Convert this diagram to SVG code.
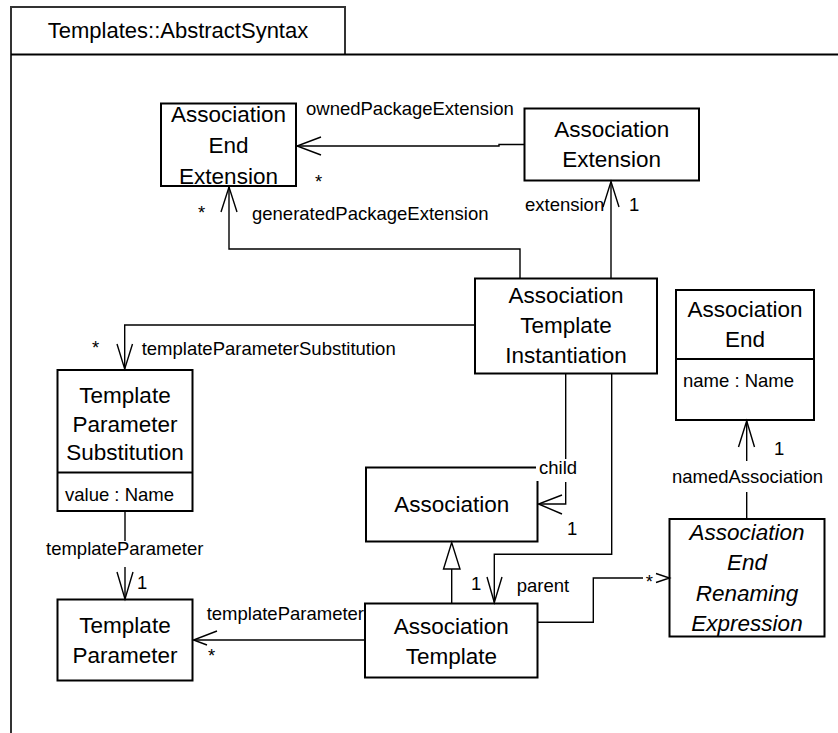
<svg xmlns="http://www.w3.org/2000/svg" width="838" height="733" viewBox="0 0 838 733">
<defs>
<style>
.box{fill:#fff;stroke:#000;stroke-width:2}
.cn{fill:#000;font-family:"Liberation Sans",Arial,sans-serif;font-size:22.5px;text-anchor:middle}
.it{font-style:italic}
.lb{fill:#000;font-family:"Liberation Sans",Arial,sans-serif;font-size:18.5px}
.mid{text-anchor:middle}
.ln{fill:none;stroke:#000;stroke-width:1.4}
</style>
</defs>
<rect width="838" height="733" fill="#fff"/>
<g id="frame">
<path d="M11,733 V7 H345 V54.5" fill="none" stroke="#333" stroke-width="2"/>
<line x1="11" y1="54.5" x2="838" y2="54.5" stroke="#000" stroke-width="2"/>
<text x="178" y="38" style="font-family:'Liberation Sans',Arial,sans-serif;font-size:22px;text-anchor:middle">Templates::AbstractSyntax</text>
</g>
<g id="AssociationEndExtension">
<rect class="box" x="161" y="103.5" width="135" height="82.5"/>
<text class="cn" x="228.5" y="122">Association</text>
<text class="cn" x="228.5" y="153">End</text>
<text class="cn" x="228.5" y="184">Extension</text>
</g>
<g id="AssociationExtension">
<rect class="box" x="524.5" y="108.5" width="174.5" height="72"/>
<text class="cn" x="611.7" y="137">Association</text>
<text class="cn" x="611.7" y="167">Extension</text>
</g>
<g id="AssociationTemplateInstantiation">
<rect class="box" x="475" y="278.5" width="182" height="95"/>
<text class="cn" x="566" y="303">Association</text>
<text class="cn" x="566" y="333">Template</text>
<text class="cn" x="566" y="363">Instantiation</text>
</g>
<g id="AssociationEnd">
<rect class="box" x="676" y="290" width="138" height="130"/>
<line x1="676" y1="359" x2="814" y2="359" stroke="#000" stroke-width="2"/>
<text class="cn" x="745" y="317">Association</text>
<text class="cn" x="745" y="347">End</text>
<text class="lb" x="683" y="387">name : Name</text>
</g>
<g id="TemplateParameterSubstitution">
<rect class="box" x="57.5" y="370" width="135" height="141"/>
<line x1="57.5" y1="472.5" x2="192.5" y2="472.5" stroke="#000" stroke-width="2"/>
<text class="cn" x="125" y="403">Template</text>
<text class="cn" x="125" y="432">Parameter</text>
<text class="cn" x="125" y="460">Substitution</text>
<text class="lb" x="65" y="501">value : Name</text>
</g>
<g id="TemplateParameter">
<rect class="box" x="57.5" y="599.5" width="135" height="81"/>
<text class="cn" x="125" y="633">Template</text>
<text class="cn" x="125" y="663">Parameter</text>
</g>
<g id="Association">
<rect class="box" x="366" y="467.5" width="171.5" height="74"/>
<text class="cn" x="451.8" y="512">Association</text>
</g>
<g id="AssociationTemplate">
<rect class="box" x="365" y="603.5" width="172.5" height="74"/>
<text class="cn" x="451.3" y="633.5">Association</text>
<text class="cn" x="451.3" y="664">Template</text>
</g>
<g id="AssociationEndRenamingExpression">
<rect class="box" x="669.5" y="519" width="155" height="117.5"/>
<text class="cn it" x="747" y="539.5">Association</text>
<text class="cn it" x="747" y="570">End</text>
<text class="cn it" x="747" y="600.5">Renaming</text>
<text class="cn it" x="747" y="631">Expression</text>
</g>
<g id="connectors">
<path class="ln" d="M524,144.5 H499 V146 H297"/>
<polyline class="ln" points="321,137 297,146 321,155"/>
<text class="lb" x="306" y="115">ownedPackageExtension</text>
<text class="lb" x="315" y="188">*</text>

<path class="ln" d="M520,278.5 V249 H229 V187"/>
<polyline class="ln" points="221,212 229,187 237,212"/>
<text class="lb" x="198" y="218.5">*</text>
<text class="lb" x="252" y="220">generatedPackageExtension</text>

<path class="ln" d="M611,278.5 V181.5"/>
<polyline class="ln" points="603,207 611,181.5 619,207"/>
<text class="lb" x="525" y="211">extension</text>
<text class="lb" x="629" y="211">1</text>

<path class="ln" d="M475,325 H124.7 V369"/>
<polyline class="ln" points="117,344 124.7,369 132.5,344"/>
<text class="lb" x="92" y="353.5">*</text>
<text class="lb" x="141.7" y="355">templateParameterSubstitution</text>

<path class="ln" d="M125,511 V541 M125,567 V599"/>
<polyline class="ln" points="117,572 125,599 133,572"/>
<text class="lb mid" x="124.7" y="555">templateParameter</text>
<text class="lb" x="137" y="589">1</text>

<path class="ln" d="M365,640 H193.5"/>
<polyline class="ln" points="217,631 193.5,640 207,645"/>
<text class="lb" x="206.7" y="620">templateParameter</text>
<text class="lb" x="208" y="662">*</text>

<path class="ln" d="M565.7,373.5 V459 M565.7,482 V504 H538.5"/>
<polyline class="ln" points="562,495 538.5,504 562,514"/>
<rect x="536" y="461" width="42" height="20" fill="#fff"/>
<text class="lb" x="539" y="474">child</text>
<text class="lb" x="567" y="535">1</text>

<path class="ln" d="M611.7,373.5 V554.3 H494.3 V602.5"/>
<polyline class="ln" points="487,577 494.3,602.5 502,577"/>
<text class="lb" x="471" y="590">1</text>
<text class="lb" x="516.7" y="592">parent</text>

<path class="ln" d="M537.7,622.3 H593.3 V578 H643"/>
<polyline class="ln" points="656,573.5 669.5,578 656,582.5"/>
<text class="lb" x="645.7" y="588">*</text>

<path class="ln" d="M746.7,519 V492 M746.7,461 V421"/>
<polyline class="ln" points="738.5,447 746.7,421 754.5,447"/>
<text class="lb mid" x="747.5" y="483">namedAssociation</text>
<text class="lb" x="774" y="455">1</text>

<path class="ln" d="M451.7,603.5 V569"/>
<polygon points="451.7,542.5 443.5,569 460,569" fill="#fff" stroke="#000" stroke-width="1.4"/>
</g>
</svg>
